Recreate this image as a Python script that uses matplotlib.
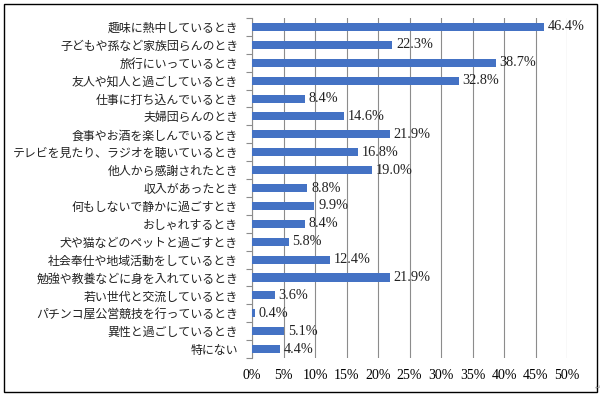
import matplotlib
matplotlib.use("Agg")
import matplotlib.pyplot as plt
from matplotlib.patches import Rectangle

categories = [
    "趣味に熱中しているとき",
    "子どもや孫など家族団らんのとき",
    "旅行にいっているとき",
    "友人や知人と過ごしているとき",
    "仕事に打ち込んでいるとき",
    "夫婦団らんのとき",
    "食事やお酒を楽しんでいるとき",
    "テレビを見たり、ラジオを聴いているとき",
    "他人から感謝されたとき",
    "収入があったとき",
    "何もしないで静かに過ごすとき",
    "おしゃれするとき",
    "犬や猫などのペットと過ごすとき",
    "社会奉仕や地域活動をしているとき",
    "勉強や教養などに身を入れているとき",
    "若い世代と交流しているとき",
    "パチンコ屋公営競技を行っているとき",
    "異性と過ごしているとき",
    "特にない",
]
values = [46.4, 22.3, 38.7, 32.8, 8.4, 14.6, 21.9, 16.8, 19.0, 8.8,
          9.9, 8.4, 5.8, 12.4, 21.9, 3.6, 0.4, 5.1, 4.4]
xticks = [0, 5, 10, 15, 20, 25, 30, 35, 40, 45, 50]

W, H = 603, 397
fig = plt.figure(figsize=(W / 100, H / 100), dpi=100)
ax = fig.add_axes([252 / W, 1 - 358 / H, (567 - 252) / W, (358 - 18) / H])

n = len(categories)
ypos = list(range(n))
ax.barh(ypos, values, height=0.45, color="#4472C4", zorder=3)
ax.set_ylim(n - 0.5, -0.5)
ax.set_xlim(0, 50)

ax.set_xticks(xticks)
ax.set_xticklabels([f"{t}%" for t in xticks], family="Liberation Serif", fontsize=10)
ax.tick_params(axis="x", length=0, pad=8)
ax.grid(axis="x", color="#8c8c8c", linewidth=0.8, zorder=0)

ax.set_yticks(ypos)
ax.set_yticklabels(categories, family=["Noto Sans CJK JP", "DejaVu Sans"], fontsize=8.6,
                   color="#222222")
ax.set_yticks([i - 0.5 for i in range(n + 1)], minor=True)
ax.tick_params(axis="y", which="major", length=0, pad=10)
ax.tick_params(axis="y", which="minor", length=4, color="#8c8c8c", width=0.8)

for s in ["top", "right", "bottom"]:
    ax.spines[s].set_visible(False)
ax.spines["left"].set_color("#8c8c8c")
ax.spines["left"].set_linewidth(0.8)

for y, v in zip(ypos, values):
    ax.text(v + 0.6, y, f"{v:.1f}%", va="center", ha="left",
            family="Liberation Serif", fontsize=10.3, color="#222222", zorder=4)

fig.patches.append(Rectangle((4 / W, 1 - 392 / H), (597 - 4) / W, (392 - 4) / H,
                             transform=fig.transFigure, fill=False,
                             edgecolor="black", linewidth=1.0))
fig.text(595 / W, 1 - 388 / H, "↵", fontsize=5, color="#999999", ha="left", va="center")

fig.savefig("out.png", dpi=100)
